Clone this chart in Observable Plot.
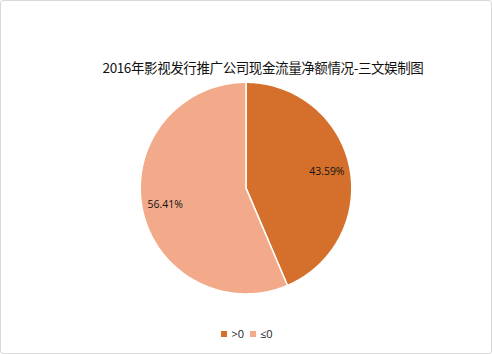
<!DOCTYPE html>
<html><head><meta charset="utf-8">
<script src="https://cdn.jsdelivr.net/npm/d3@7"></script>
<script src="https://cdn.jsdelivr.net/npm/@observablehq/plot@0.6"></script>
<style>
body{margin:0;background:#fff;}
#wrap{position:relative;width:492px;height:354px;box-sizing:border-box;border:1px solid #d9d9d9;border-radius:3px;overflow:hidden;}
#title{position:absolute;top:56px;left:0;width:524px;text-align:center;font-family:"Noto Sans CJK SC",sans-serif;font-size:13.5px;letter-spacing:-0.4px;color:#111;}
#legend{position:absolute;top:325px;left:0;width:492px;text-align:center;font-family:"Open Sans","DejaVu Sans",sans-serif;font-size:11px;color:#222;}
#legend span.sw{display:inline-block;width:6px;height:6px;margin-right:4px;vertical-align:1px;}
#legend span.it{margin:0 3px;}
#chart{position:absolute;left:-1px;top:-1px;}
</style></head>
<body>
<div id="wrap"><div id="chart"></div><div id="title"></div><div id="legend"></div></div>
<script>
const title = "2016年影视发行推广公司现金流量净额情况-三文娱制图";
const categories = [">0", "≤0"];
const values = [43.59, 56.41];
const colors = ["#D4702B", "#F2AA8B"];

document.getElementById("title").textContent = title;
const leg = document.getElementById("legend");
categories.forEach((c, i) => {
  const s = document.createElement("span"); s.className = "it";
  s.innerHTML = `<span class="sw" style="background:${colors[i]}"></span>${c}`;
  leg.appendChild(s);
});

const pie = d3.pie().sort(null)(values);
const slicePts = [];
const labels = [];
pie.forEach((a, i) => {
  const n = 120;
  slicePts.push({cat: categories[i], x: 0, y: 0, k: 0});
  for (let j = 0; j <= n; j++) {
    const t = a.startAngle + (a.endAngle - a.startAngle) * j / n;
    slicePts.push({cat: categories[i], x: Math.sin(t), y: Math.cos(t), k: j + 1});
  }
  slicePts.push({cat: categories[i], x: 0, y: 0, k: n + 2});
  const m = (a.startAngle + a.endAngle) / 2;
  labels.push({x: 0.78 * Math.sin(m), y: 0.78 * Math.cos(m), text: values[i].toFixed(2) + "%"});
});

const R = 106;
const plot = Plot.plot({
  width: 492, height: 354,
  margin: 0,
  x: {domain: [-246 / R, 246 / R], axis: null},
  y: {domain: [-166 / R, 188 / R], axis: null},
  color: {domain: categories, range: colors},
  style: {background: "transparent"},
  marks: [
    Plot.line(slicePts, {x: "x", y: "y", z: "cat", fill: "cat", stroke: "white", strokeWidth: 1.5, curve: "linear"}),
    Plot.text(labels, {x: "x", y: "y", text: "text", fontSize: 10.5, fill: "#111", fontFamily: "Open Sans, DejaVu Sans, sans-serif"})
  ]
});
document.getElementById("chart").appendChild(plot);
</script>
</body></html>
